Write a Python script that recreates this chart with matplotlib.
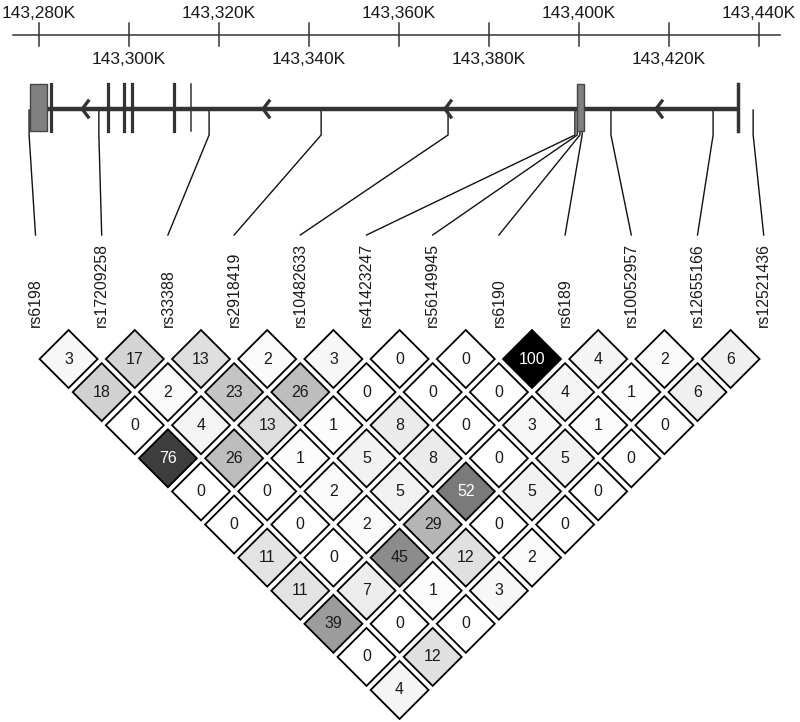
import numpy as np
import matplotlib
matplotlib.use("Agg")
import matplotlib.pyplot as plt
from matplotlib.patches import Polygon, Rectangle

plt.rcParams['font.family'] = ['Liberation Sans', 'DejaVu Sans']

# SNP names and genomic positions (kb)
snps = ["rs6198", "rs17209258", "rs33388", "rs2918419", "rs10482633", "rs41423247",
        "rs56149945", "rs6190", "rs6189", "rs10052957", "rs12655166", "rs12521436"]
snp_kb = [143277.8, 143293.3, 143317.8, 143342.7, 143370.9, 143399.1,
          143399.6, 143400.2, 143400.7, 143407.1, 143429.8, 143438.7]

# r^2 (x100) by distance between SNPs (lag 1 = neighbours)
ld_lag1 = [3, 17, 13, 2, 3, 0, 0, 100, 4, 2, 6]
ld_lag2 = [18, 2, 23, 26, 0, 0, 0, 4, 1, 6]
ld_lag3 = [0, 4, 13, 1, 8, 0, 3, 1, 0]
ld_lag4 = [76, 26, 1, 5, 8, 0, 5, 0]
ld_lag5 = [0, 0, 2, 5, 52, 5, 0]
ld_lag6 = [0, 0, 2, 29, 0, 0]
ld_lag7 = [11, 0, 45, 12, 2]
ld_lag8 = [11, 7, 1, 3]
ld_lag9 = [39, 0, 0]
ld_lag10 = [0, 12]
ld_lag11 = [4]
ld_rows = [ld_lag1, ld_lag2, ld_lag3, ld_lag4, ld_lag5, ld_lag6,
           ld_lag7, ld_lag8, ld_lag9, ld_lag10, ld_lag11]

# ruler ticks (kb)
ruler_ticks = [143280, 143300, 143320, 143340, 143360, 143380, 143400, 143420, 143440]

# gene model (kb)
gene_span = (143281.8, 143435.3)
big_exons = [(143278.0, 143281.8), (143399.6, 143401.1)]
thick_exons = [143282.7, 143295.3, 143298.9, 143300.7, 143310.0]
thin_exons = [143313.8]
gene_end = 143435.3
arrows_kb = [143289.6, 143329.8, 143370.2, 143417.1]

# layout (pixels)
px0, kb0, px_per_kb = 39.0, 143280.0, 4.5
def gx(kb):
    return px0 + (kb - kb0) * px_per_kb

lab_x0, lab_dx = 35.5, 66.2
row0_y, half = 359.0, 29.0
ruler_y = 35
gene_y = 109
dark = "#333333"

fig = plt.figure(figsize=(8, 7.22), dpi=100)
ax = fig.add_axes([0, 0, 1, 1])
ax.set_xlim(0, 800)
ax.set_ylim(722, 0)
ax.axis('off')

# ruler
ax.plot([13, 780], [ruler_y, ruler_y], color=dark, lw=1.1)
for k, t in enumerate(ruler_ticks):
    x = gx(t)
    ax.plot([x, x], [ruler_y - 12, ruler_y + 11], color=dark, lw=1.1)
    ty = 13 if k % 2 == 0 else 59
    ax.text(x, ty, f"{t:,}K", ha='center', va='center', fontsize=12.5, color="#1a1a1a")

# gene model
ax.plot([gx(gene_span[0]), gx(gene_span[1])], [gene_y, gene_y], color=dark, lw=3.2,
        solid_capstyle='butt', zorder=2)
for a, b in big_exons:
    ax.add_patch(Rectangle((gx(a), 84), gx(b) - gx(a), 47, facecolor="#808080",
                           edgecolor="#444444", lw=1.0, zorder=3))
for e in thick_exons:
    ax.plot([gx(e), gx(e)], [84, 131], color=dark, lw=2.3, zorder=3)
for e in thin_exons:
    ax.plot([gx(e), gx(e)], [84, 131], color=dark, lw=1.1, zorder=3)
ax.plot([gx(gene_end), gx(gene_end)], [84, 131], color=dark, lw=2.5, zorder=3)
for a in arrows_kb:
    x = gx(a)
    ax.plot([x + 6, x, x + 6], [gene_y - 8, gene_y, gene_y + 8], color=dark, lw=2.4,
            solid_joinstyle='miter', zorder=3)

# connectors from gene positions to labels
lab_x = [lab_x0 + lab_dx * i for i in range(len(snps))]
for i, kb in enumerate(snp_kb):
    x = gx(kb)
    ax.plot([x, x, lab_x[i]], [gene_y + 1, 135, 235], color="#111111", lw=1.0, zorder=1)
    ax.text(lab_x[i], 327, snps[i], rotation=90, ha='center', va='bottom',
            fontsize=11.4, color="#1a1a1a")

# LD diamonds
for d, row in enumerate(ld_rows, start=1):
    for i, v in enumerate(row):
        j = i + d
        cx = (lab_x[i] + lab_x[j]) / 2
        cy = row0_y + (lab_dx / 2) * (d - 1)
        g = 1 - v / 100.0
        poly = Polygon([(cx - half, cy), (cx, cy - half), (cx + half, cy), (cx, cy + half)],
                       closed=True, facecolor=(g, g, g), edgecolor="black", lw=1.3)
        ax.add_patch(poly)
        tc = "white" if v >= 50 else "#1a1a1a"
        ax.text(cx, cy, str(v), ha='center', va='center', fontsize=11.5, color=tc)

fig.savefig("out.png", dpi=100)
